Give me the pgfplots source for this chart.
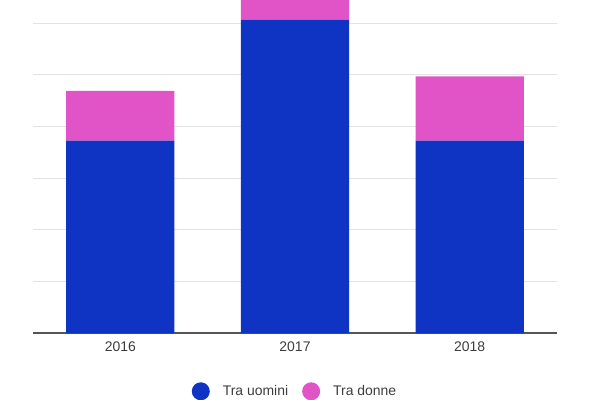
\documentclass[border=0pt]{standalone}
\usepackage{pgfplots}
\pgfplotsset{compat=1.18}
\usepackage{fontspec}
\setmainfont{Liberation Sans}
\definecolor{cblue}{HTML}{0F34C4}
\definecolor{cpink}{HTML}{E054C8}
\definecolor{cgrid}{HTML}{E3E3E3}
\definecolor{ctext}{HTML}{3C3C3C}
\definecolor{cbase}{HTML}{555555}
\begin{document}
\begin{tikzpicture}
\path[use as bounding box] (0,0) rectangle (600bp,400bp);
\begin{axis}[
  at={(33bp,66.7bp)}, anchor=south west,
  scale only axis, width=524bp, height=333.3bp,
  ybar stacked, bar width=0.62,
  xmin=-0.5, xmax=2.5, ymin=0, ymax=6.45,
  xtick={0,1,2}, xticklabels={2016,2017,2018},
  xtick style={draw=none},
  xticklabel style={anchor=base, yshift=-18.5bp, font=\fontsize{14}{16}\selectfont, text=ctext},
  ytick={1,2,3,4,5,6}, yticklabels={}, ytick style={draw=none},
  ymajorgrids, grid style={cgrid, line width=1bp},
  separate axis lines,
  axis x line*=bottom, axis y line*=left,
  x axis line style={cbase, line width=2bp, -},
  y axis line style={draw=none},
  /pgf/number format/assume math mode=true,
  legend columns=2,
  legend style={draw=none, fill=none, at={(0.5,-0.174)}, anchor=center,
    font=\fontsize{14}{16}\selectfont, text=ctext, inner sep=0pt,
    /tikz/every even column/.append style={column sep=12bp}},
  legend image code/.code={\fill[#1] (9bp,0) circle (9bp); \path (0,0) (29bp,0);},
]
\addplot[fill=cblue, draw=none] coordinates {(0,3.73) (1,6.07) (2,3.73)};
\addplot[fill=cpink, draw=none] coordinates {(0,0.96) (1,0.8) (2,1.24)};
\legend{Tra uomini, Tra donne}
\end{axis}
\end{tikzpicture}
\end{document}
